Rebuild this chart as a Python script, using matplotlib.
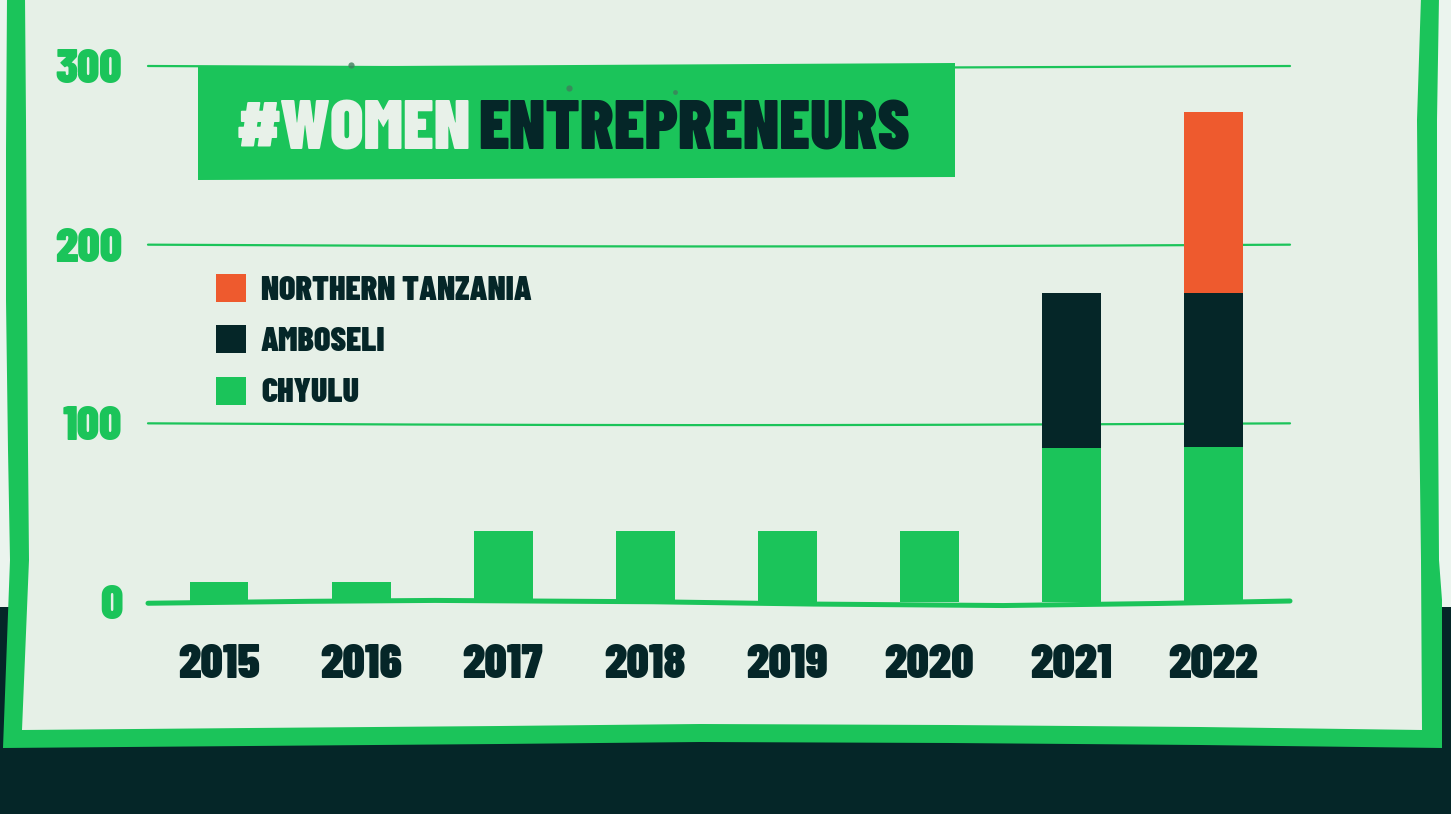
import numpy as np
import matplotlib
matplotlib.use("Agg")
import matplotlib.pyplot as plt
from matplotlib.patches import Polygon
from matplotlib.lines import Line2D

# ---------------- data ----------------
years = ["2015", "2016", "2017", "2018", "2019", "2020", "2021", "2022"]
chyulu = [11, 11, 40, 40, 40, 40, 86, 87]
amboseli = [0, 0, 0, 0, 0, 0, 87, 86]
northern_tanzania = [0, 0, 0, 0, 0, 0, 0, 101]
series_labels = ["NORTHERN TANZANIA", "AMBOSELI", "CHYULU"]
y_ticks = [0, 100, 200, 300]
y_tick_labels = ["0", "100", "200", "300"]
title_part1 = "#WOMEN"
title_part2 = "ENTREPRENEURS"

# ---------------- style ----------------
GREEN = "#1bc45a"
DARK = "#052628"
ORANGE = "#ee5a2e"
LIGHT = "#e6f0e7"
OUTER_LIGHT = "#ebf4ee"
TITLE_LIGHT = "#e8f1e9"
FONT = ["Barlow Condensed", "DejaVu Sans"]
plt.rcParams["font.family"] = FONT

W, H = 1451, 814
fig = plt.figure(figsize=(W / 100, H / 100), dpi=100)
fig.patch.set_facecolor(OUTER_LIGHT)


def fx(px):
    return px / W


def fy(py):
    return 1 - py / H


def poly(pts, color, z):
    fig.add_artist(Polygon([(fx(a), fy(b)) for a, b in pts], closed=True,
                           transform=fig.transFigure, facecolor=color,
                           edgecolor="none", zorder=z))


# background bands and hand-drawn frame
poly([(-5, 607), (W + 5, 607), (W + 5, H + 5), (-5, H + 5)], DARK, -10)
outer = [(7, -3), (6, 150), (6, 300), (8, 450), (10, 560), (3, 748),
         (250, 746), (500, 744), (700, 742), (950, 743), (1200, 745),
         (1442, 748), (1442, 600), (1439, 560), (1438, 400), (1437, 250),
         (1437, 120), (1439, -3)]
inner = [(25, -3), (26, 120), (27, 300), (28, 450), (29, 560), (22, 730),
         (250, 728), (500, 726), (700, 724), (950, 725), (1200, 727),
         (1422, 730), (1421, 560), (1419, 400), (1418, 250), (1417, 120), (1421, -3)]
poly(outer, GREEN, -9)
poly(inner, LIGHT, -8)

# ---------------- axes ----------------
ax = fig.add_axes([fx(148), fy(602), (1290 - 148) / W, (602 - 66) / H])
ax.set_facecolor("none")
ax.set_xlim(-0.5, 7.54)
ax.set_ylim(0, 300)
for s in ax.spines.values():
    s.set_visible(False)

x = np.arange(len(years))
bw = 0.415
b_ch = ax.bar(x, chyulu, bw, color=GREEN, linewidth=0, zorder=3)
b_am = ax.bar(x, amboseli, bw, bottom=chyulu, color=DARK, linewidth=0, zorder=3)
b_nt = ax.bar(x, northern_tanzania, bw, bottom=np.add(chyulu, amboseli),
              color=ORANGE, linewidth=0, zorder=3)

# hand-drawn looking grid lines
xs = np.linspace(-0.5, 7.54, 200)
u = (xs + 0.5) / 8.04
for v in y_ticks[1:]:
    ax.plot(xs, v - 1.0 * np.sin(np.pi * u), color=GREEN, lw=1.6, zorder=1,
            clip_on=False, solid_capstyle="round")
base_knots_x = [-0.5, 0.5, 1.48, 3.0, 4.09, 5.5, 6.5, 7.54]
base_knots_y = [-0.7, 0.3, 0.9, 0.2, -1.1, -2.0, -1.0, 0.56]
ax.plot(xs, np.interp(xs, base_knots_x, base_knots_y), color=GREEN, lw=3.6,
        zorder=4, clip_on=False, solid_capstyle="round")

ax.set_yticks(y_ticks)
ax.set_yticklabels(y_tick_labels, fontsize=35, fontweight="black", color=GREEN)
ax.set_xticks(x)
ax.set_xticklabels(years, fontsize=35, fontweight="black", color=DARK)
ax.tick_params(axis="y", length=0, pad=18.5)
ax.tick_params(axis="x", length=0, pad=30)

leg = ax.legend(handles=[b_nt, b_am, b_ch], labels=series_labels,
                loc="upper left", bbox_to_anchor=(fx(216), fy(274)),
                bbox_transform=fig.transFigure, frameon=False,
                prop=dict(family=FONT, weight="black", size=24.5),
                handlelength=0.88, handleheight=0.88, handletextpad=0.44,
                labelspacing=0.58, borderpad=0, borderaxespad=0)
for t in leg.get_texts():
    t.set_color(DARK)

# ---------------- title banner ----------------
poly([(198, 67), (955, 63), (955, 177), (198, 180)], GREEN, 5)
fig.text(fx(237), fy(150), title_part1, color=TITLE_LIGHT, fontsize=50,
         fontweight="black", ha="left", va="baseline", zorder=6)
fig.text(fx(910), fy(150), title_part2, color=DARK, fontsize=50,
         fontweight="black", ha="right", va="baseline", zorder=6)
for (dx, dy, ms) in [(351, 65, 4.5), (569, 88, 4.5), (675, 92, 3.5)]:
    fig.add_artist(Line2D([fx(dx)], [fy(dy)], marker="o", ms=ms, color="#3f7f5c",
                          markeredgewidth=0, alpha=0.8, transform=fig.transFigure, zorder=7))

fig.savefig("out.png", dpi=100, facecolor=fig.get_facecolor())
